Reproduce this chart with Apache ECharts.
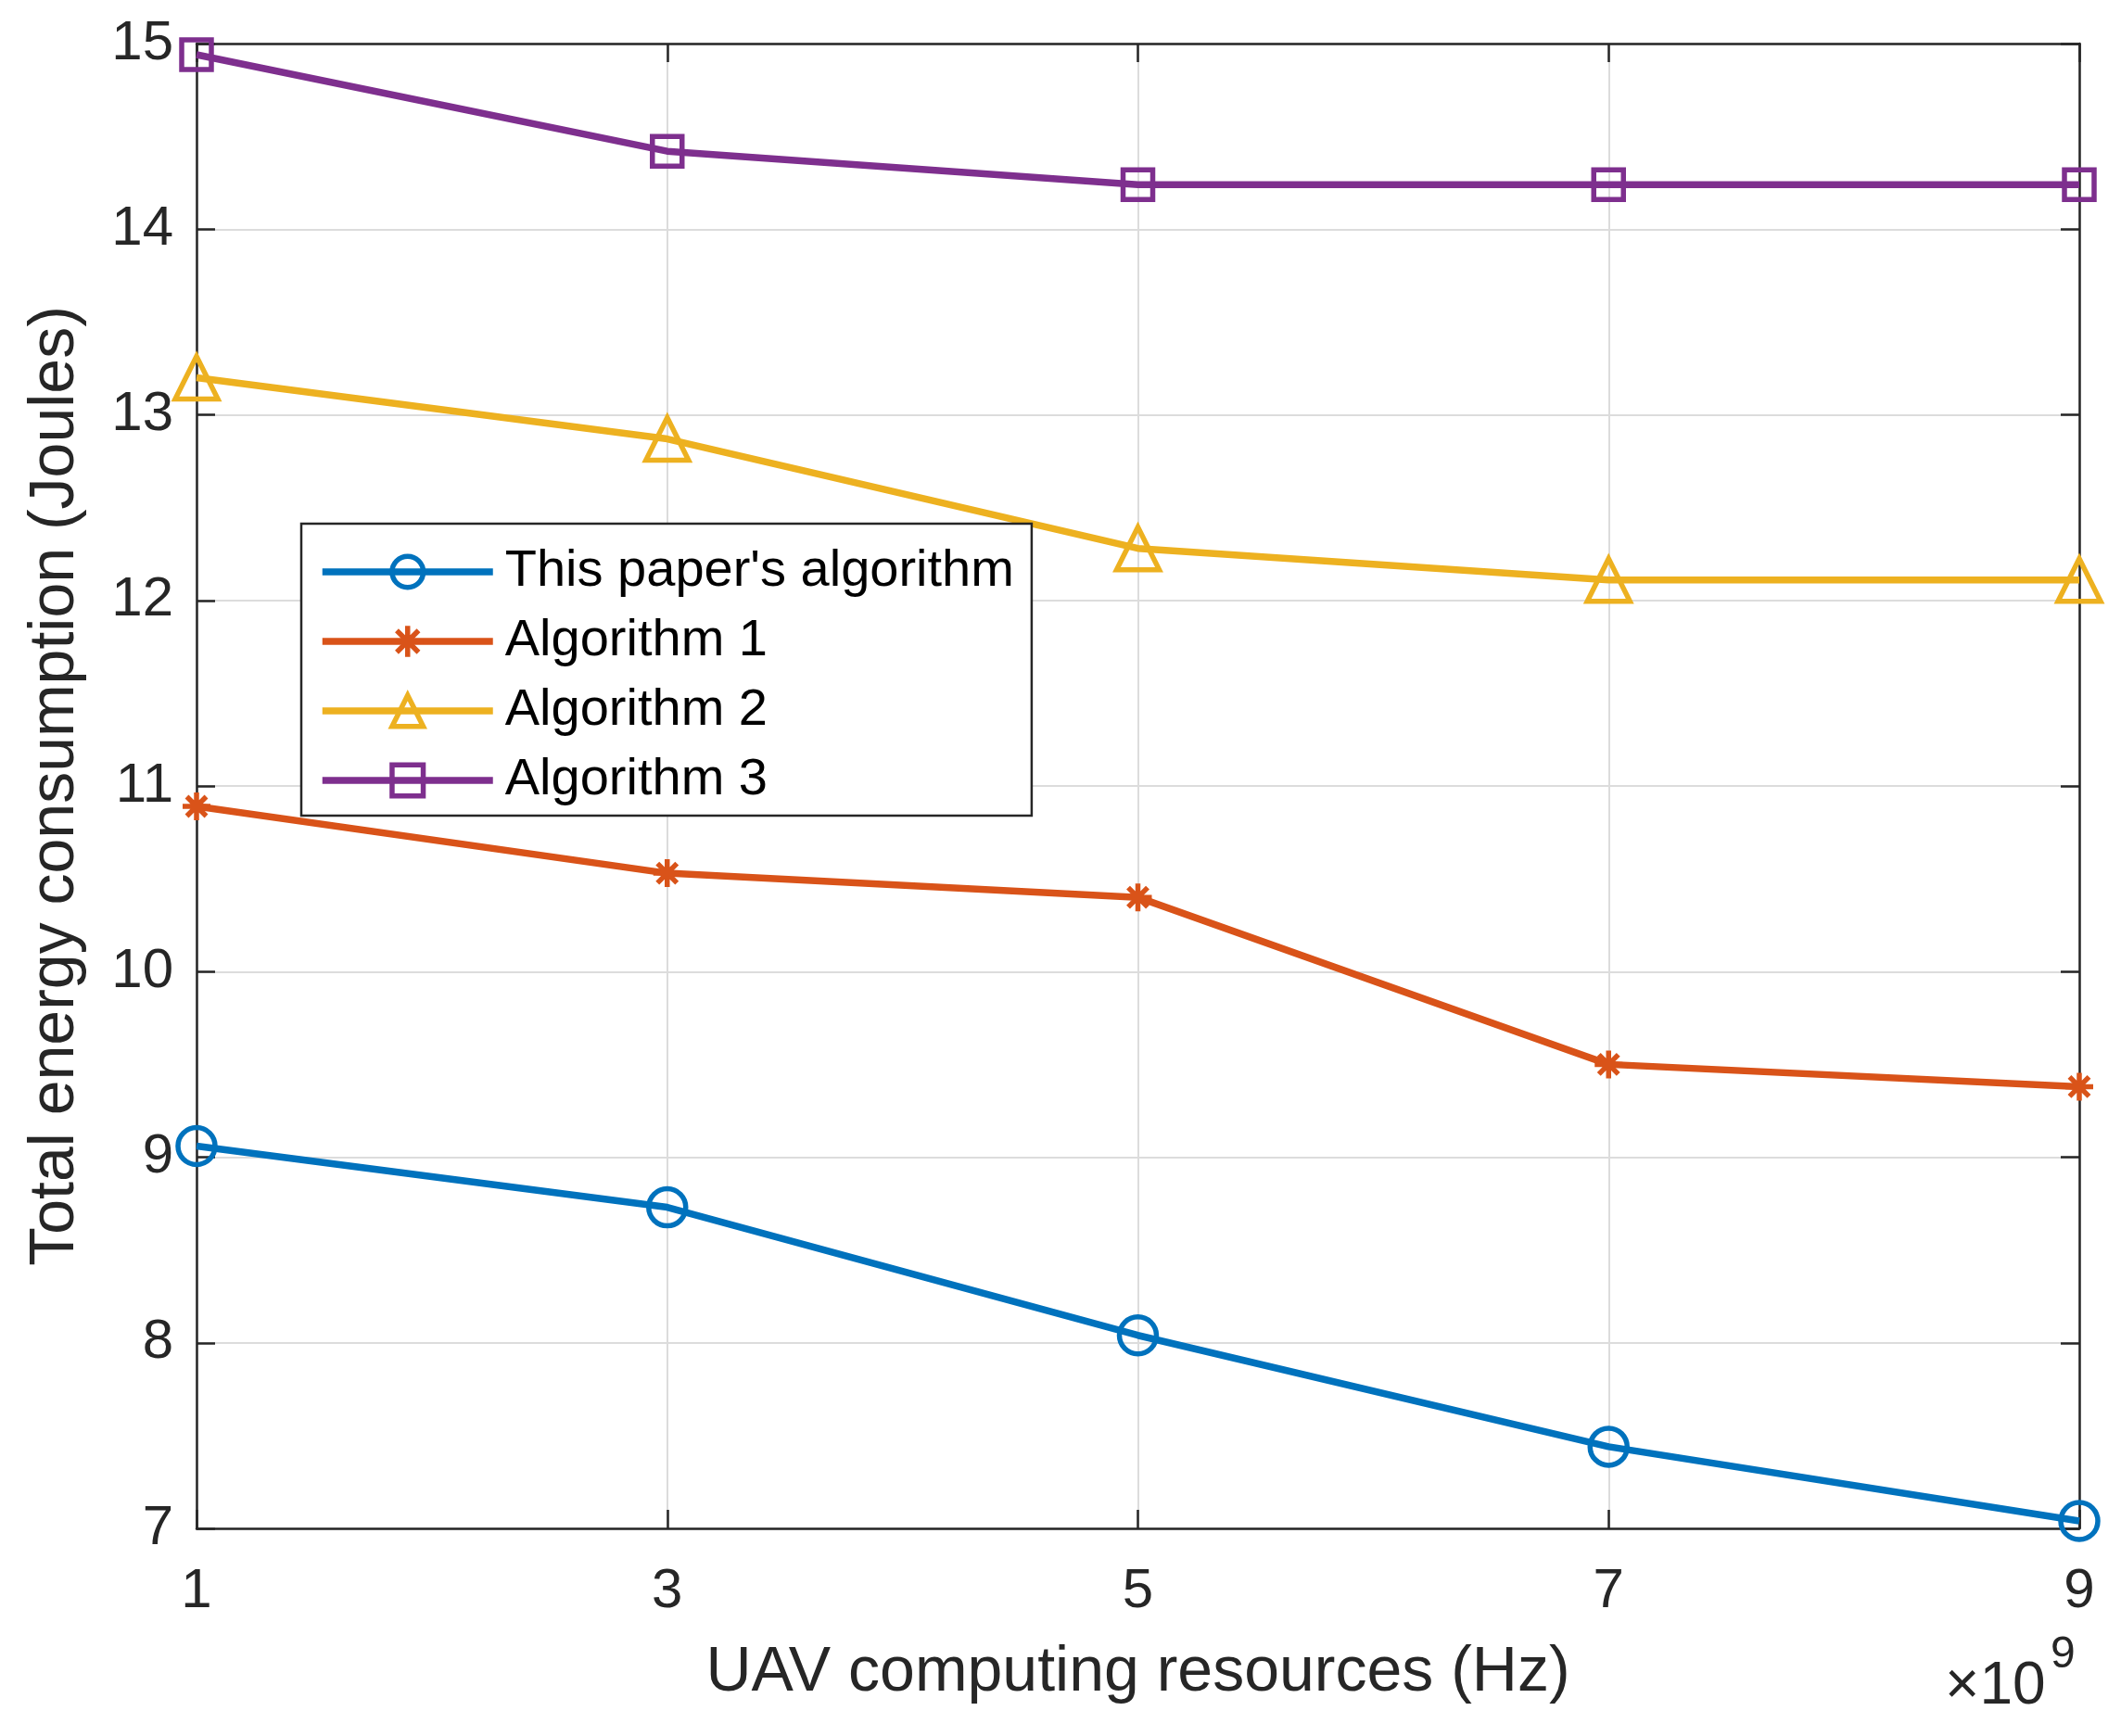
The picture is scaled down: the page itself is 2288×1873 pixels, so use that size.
<!DOCTYPE html>
<html>
<head>
<meta charset="utf-8">
<script src="https://cdn.jsdelivr.net/npm/echarts@6/dist/echarts.min.js"></script>
<style>
  html, body { margin: 0; padding: 0; background: #fff; }
  #chart { width: 2288px; height: 1873px; }
</style>
</head>
<body>
<div id="chart"></div>
<script>
var xCats = ['1', '3', '5', '7', '9'];
var seriesNames = ["This paper's algorithm", 'Algorithm 1', 'Algorithm 2', 'Algorithm 3'];
var ours = [9.06, 8.73, 8.04, 7.44, 7.04];
var algo1 = [10.89, 10.53, 10.40, 9.50, 9.38];
var algo2 = [13.20, 12.87, 12.28, 12.11, 12.11];
var algo3 = [14.94, 14.42, 14.24, 14.24, 14.24];

var font = 'Liberation Sans, Arial, Helvetica, sans-serif';
var ink = '#262626';
var asterisk = 'path://M0,-10L0,10M-10,0L10,0M-7,-7L7,7M-7,7L7,-7';

var chart = echarts.init(document.getElementById('chart'), null, {renderer: 'canvas'});

function line(name, data, color, symbol, size) {
    return {
        name: name,
        type: 'line',
        data: data,
        xAxisIndex: 0,
        yAxisIndex: 0,
        symbol: symbol,
        symbolSize: size,
        showAllSymbol: true,
        lineStyle: { color: color, width: 7.5 },
        itemStyle: { color: 'rgba(255,255,255,0)', borderColor: color, borderWidth: 5.5 },
        emphasis: { disabled: true },
        z: 3
    };
}

var option = {
    animation: false,
    backgroundColor: '#fff',
    grid: { left: 212, right: 45, top: 47, bottom: 224 },
    legend: {
        orient: 'vertical',
        left: 325,
        top: 565,
        backgroundColor: '#fff',
        borderColor: ink,
        borderWidth: 2.5,
        borderRadius: 0,
        padding: [24, 19, 10, 19],
        itemGap: 19,
        itemWidth: 184,
        itemHeight: 42,
        itemStyle: { borderWidth: 5.5 },
        lineStyle: { width: 7.5 },
        textStyle: { fontFamily: font, fontSize: 56, color: '#000', padding: [0, 0, 0, 8] },
        data: seriesNames
    },
    xAxis: [{
        type: 'category',
        data: xCats,
        boundaryGap: false,
        position: 'bottom',
        name: 'UAV computing resources (Hz)',
        nameLocation: 'middle',
        nameGap: 122,
        nameTextStyle: { fontFamily: font, fontSize: 68, color: ink },
        axisLine: { lineStyle: { color: ink, width: 2.5 } },
        axisTick: { inside: true, length: 20, lineStyle: { color: ink, width: 2.5 } },
        axisLabel: { fontFamily: font, fontSize: 60, color: ink, margin: 38 },
        splitLine: { show: true, lineStyle: { color: '#dcdcdc', width: 2 } }
    }, {
        type: 'category',
        data: xCats,
        boundaryGap: false,
        position: 'top',
        axisLine: { lineStyle: { color: ink, width: 2.5 } },
        axisTick: { inside: true, length: 20, lineStyle: { color: ink, width: 2.5 } },
        axisLabel: { show: false },
        splitLine: { show: false }
    }],
    yAxis: [{
        type: 'value',
        min: 7,
        max: 15,
        interval: 1,
        position: 'left',
        name: 'Total energy consumption (Joules)',
        nameLocation: 'middle',
        nameGap: 118,
        nameTextStyle: { fontFamily: font, fontSize: 68, color: ink },
        axisLine: { show: true, lineStyle: { color: ink, width: 2.5 } },
        axisTick: { show: true, inside: true, length: 20, lineStyle: { color: ink, width: 2.5 } },
        axisLabel: { fontFamily: font, fontSize: 60, color: ink, margin: 25 },
        splitLine: { show: true, lineStyle: { color: '#dcdcdc', width: 2 } }
    }, {
        type: 'value',
        min: 7,
        max: 15,
        interval: 1,
        position: 'right',
        axisLine: { show: true, lineStyle: { color: ink, width: 2.5 } },
        axisTick: { show: true, inside: true, length: 20, lineStyle: { color: ink, width: 2.5 } },
        axisLabel: { show: false },
        splitLine: { show: false }
    }],
    series: [
        line(seriesNames[0], ours, '#0072BD', 'circle', 40),
        line(seriesNames[1], algo1, '#D95319', asterisk, 30),
        line(seriesNames[2], algo2, '#EDB120', 'triangle', 46),
        line(seriesNames[3], algo3, '#7E2F8E', 'rect', 32)
    ],
    graphic: [{
        type: 'text',
        left: 2098,
        top: 1788,
        style: { text: '×10', font: '64px ' + font, fill: ink }
    }, {
        type: 'text',
        left: 2212,
        top: 1762,
        style: { text: '9', font: '48px ' + font, fill: ink }
    }]
};

chart.setOption(option);
</script>
</body>
</html>
